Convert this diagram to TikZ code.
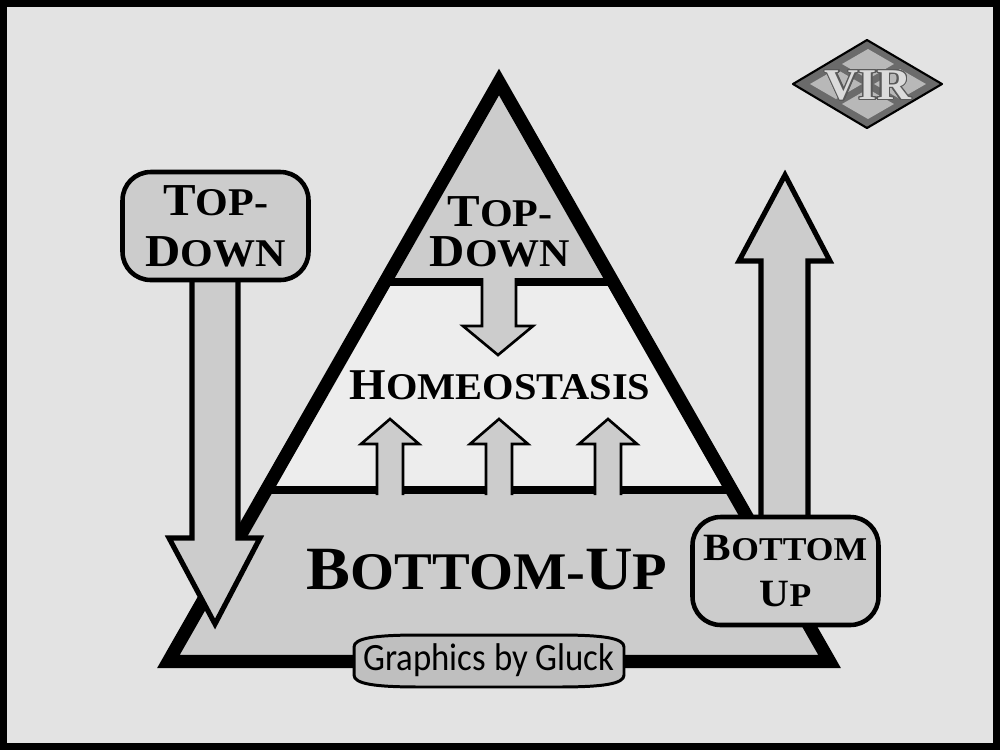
\documentclass[tikz,border=0pt]{standalone}
\usepackage{fontspec}
\usepackage{graphicx}
\usepackage[copies]{contour}
\newfontfamily\copperfont[FakeStretch=1.07]{Liberation Serif}
\newfontfamily\handfont[FakeStretch=0.9]{Carlito}
\newcommand{\smallcap}[2]{#1\scalebox{0.86}{#2}}
\definecolor{pagegray}{gray}{0.89}
\definecolor{cellgray}{gray}{0.80}
\definecolor{midgray}{gray}{0.93}
\definecolor{tabgray}{gray}{0.75}
\begin{document}
\begin{tikzpicture}[x=0.02cm, y=-0.02cm]
    % Define styles
    \tikzstyle{heavy} = [draw=black, line width=7.5pt, line join=miter]
    \tikzstyle{band} = [draw=black, line width=5pt]
    \tikzstyle{bigarrow} = [draw=black, fill=cellgray, line width=2.9pt, line join=miter]
    \tikzstyle{smallarrow} = [draw=black, fill=cellgray, line width=1.5pt, line join=miter]
    \tikzstyle{labelbox} = [draw=black, fill=cellgray, line width=2.6pt, rounded corners=16pt, minimum width=3.72cm, minimum height=2.16cm, inner sep=0pt, align=center]
    \tikzstyle{title} = [inner sep=0pt, align=center]

    % Page and frame
    \draw[fill=pagegray, draw=black, line width=4pt] (3.5,3.5) rectangle (996.5,746.5);

    % Triangle, filled layer by layer
    \fill[cellgray] (499,82) -- (168.4,661.5) -- (829.6,661.5) -- cycle;
    \fill[midgray] (385,282) -- (613,282) -- (732,490) -- (266,490) -- cycle;
    \draw[band] (385,282) -- (613,282);
    \draw[band] (266,490) -- (732,490);
    \draw[heavy] (499,82) -- (168.4,661.5) -- (829.6,661.5) -- cycle;

    % Arrows inside the triangle
    \draw[smallarrow] (482,278) -- (482,326) -- (463,326) -- (498,355) -- (533,326) -- (516,326) -- (516,278);
    \foreach \ax in {390,499,608} {
        \draw[smallarrow] (\ax-13,495) -- (\ax-13,444) -- (\ax-29,444) -- (\ax,419) -- (\ax+29,444) -- (\ax+13,444) -- (\ax+13,495);
    }

    % Arrows outside the triangle
    \draw[bigarrow] (192,280) -- (192,538) -- (169,538) -- (215,624) -- (260,538) -- (238,538) -- (238,280);
    \draw[bigarrow] (761,518) -- (761,261) -- (739,261) -- (785,175) -- (830,261) -- (808,261) -- (808,518);

    % Label boxes
    \node[labelbox, font=\copperfont\bfseries\fontsize{26}{29}\selectfont] (topbox) at (215.5,226) {\smallcap{T}{OP-}\\\smallcap{D}{OWN}};
    \node[labelbox, font=\copperfont\bfseries\fontsize{22}{26}\selectfont] (bottombox) at (785.5,571) {\smallcap{B}{OTTOM}\\\smallcap{U}{P}};

    % Texts inside the triangle
    \node[title, font=\copperfont\bfseries\fontsize{26}{22.5}\selectfont] (toplabel) at (500,232) {\smallcap{T}{OP-}\\\smallcap{D}{OWN}};
    \node[title, font=\copperfont\bfseries\fontsize{25}{28}\selectfont] (homeo) at (500,385) {\smallcap{H}{OMEOSTASIS}};
    \node[title, font=\copperfont\bfseries\fontsize{35}{40}\selectfont] (bottomup) at (487,570) {\smallcap{B}{OTTOM-}\smallcap{U}{P}};

    % Credit tab
    \draw[fill=tabgray, draw=black, line width=1.7pt] (354,647) .. controls (354,638) and (375,635) .. (420,635) -- (558,635) .. controls (603,635) and (624,638) .. (624,647) -- (624,675) .. controls (624,684) and (603,687) .. (558,687) -- (420,687) .. controls (375,687) and (354,684) .. (354,675) -- cycle;
    \node[title, font=\handfont\fontsize{22}{24}\selectfont] (credit) at (489,660) {Graphics by Gluck};

    % Logo
    \draw[fill=black!58, draw=black, line width=1.2pt, line join=round] (793,84) -- (867,40) -- (942,84) -- (867,128) -- cycle;
    \fill[black!28] (868,49) -- (894,64) -- (868,79) -- (842,64) -- cycle;
    \fill[black!28] (868,89) -- (894,104) -- (868,119) -- (842,104) -- cycle;
    \fill[black!28] (810,84) -- (836,69) -- (862,84) -- (836,99) -- cycle;
    \fill[black!28] (874,84) -- (900,69) -- (926,84) -- (900,99) -- cycle;
    \contourlength{0.7pt}
    \node[inner sep=0pt, text=black!14, font=\copperfont\bfseries\fontsize{25}{26}\selectfont] (logo) at (868,86) {\contour{black!65}{VIR}};
\end{tikzpicture}
\end{document}
